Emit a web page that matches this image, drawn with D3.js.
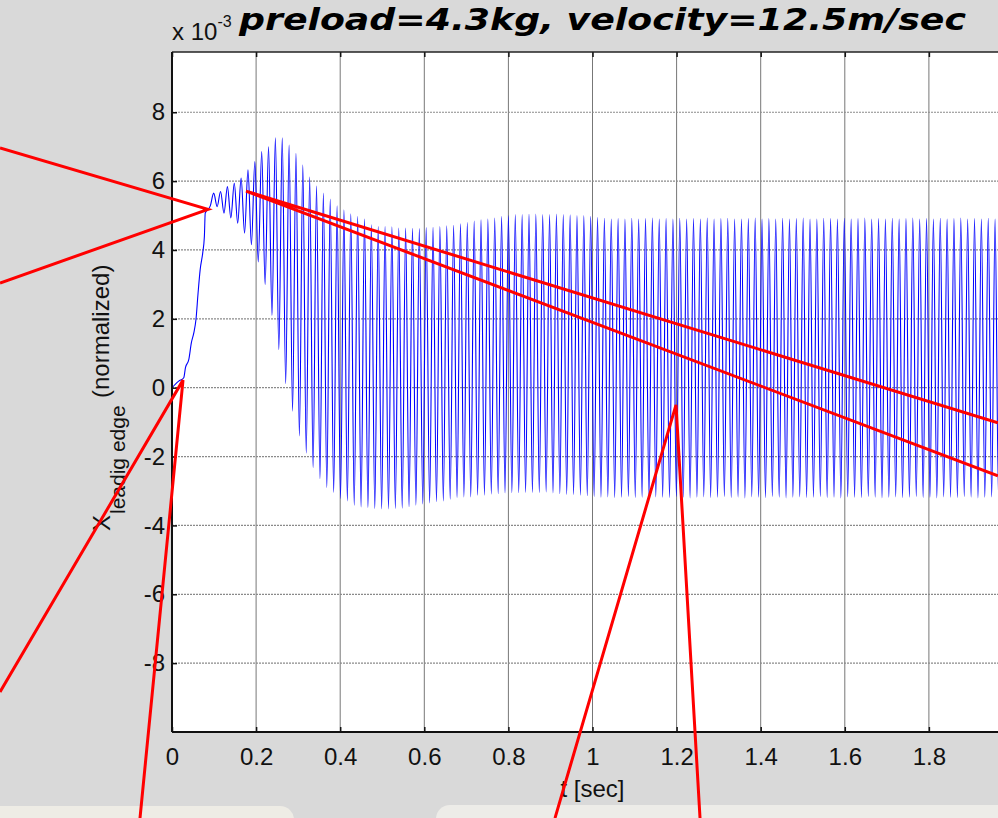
<!DOCTYPE html>
<html>
<head>
<meta charset="utf-8">
<script src="https://cdn.jsdelivr.net/npm/d3@7/dist/d3.min.js"></script>
<style>
  body { margin: 0; background: #d9d9d9; }
  svg { display: block; }
  .tick text { font-family: "Liberation Sans", Arial, sans-serif; font-size: 24px; fill: #111; }
</style>
</head>
<body>
<div id="plot"></div>
<script>
// ---- data (values in units of 1e-3) ----
const xTicks = [0, 0.2, 0.4, 0.6, 0.8, 1, 1.2, 1.4, 1.6, 1.8];
const xTickLabels = ["0", "0.2", "0.4", "0.6", "0.8", "1", "1.2", "1.4", "1.6", "1.8"];
const yTicks = [-8, -6, -4, -2, 0, 2, 4, 6, 8];
const yTickLabels = ["-8", "-6", "-4", "-2", "0", "2", "4", "6", "8"];

// initial rise before the oscillation starts
const riseT = [0, 0.016, 0.028, 0.032, 0.040, 0.046, 0.052, 0.057, 0.062, 0.067, 0.073, 0.077, 0.079];
const riseV = [0, 0.19, 0.29, 0.58, 0.82, 1.30, 1.60, 1.98, 2.75, 3.43, 3.91, 4.39, 5.07];

// oscillation: one peak and the trough before it for every cycle
const firstPeakT = 0.0992;
const cyclePeriod = 0.0163;
const peaks = [
  5.65, 5.70, 5.84, 5.94, 6.09, 6.33, 6.57, 6.86, 7.00, 7.26,
  7.26, 7.05, 6.81, 6.47, 6.12, 5.86, 5.65, 5.48, 5.28, 5.17,
  5.05, 4.97, 4.90, 4.73, 4.68, 4.68, 4.67, 4.64, 4.64, 4.63,
  4.62, 4.65, 4.66, 4.68, 4.70, 4.72, 4.76, 4.80, 4.84, 4.88,
  4.90, 4.93, 4.97, 5.00, 5.03, 5.03, 5.04, 5.04, 5.03, 5.03,
  5.04, 5.03, 5.02, 5.00, 5.00, 4.98, 4.94, 4.92, 4.90, 4.91,
  4.90, 4.92, 4.90, 4.91, 4.93, 4.90, 4.91, 4.90, 4.92, 4.90,
  4.91, 4.90, 4.93, 4.90, 4.91, 4.92, 4.90, 4.90, 4.91, 4.93,
  4.90, 4.91, 4.90, 4.92, 4.90, 4.91, 4.93, 4.90, 4.90, 4.92,
  4.91, 4.90, 4.92, 4.90, 4.91, 4.93, 4.90, 4.91, 4.90, 4.92,
  4.90, 4.91, 4.93, 4.90, 4.91, 4.90, 4.92, 4.90, 4.91, 4.93,
  4.90, 4.91, 4.90, 4.92, 4.90, 4.91, 4.90
];
const troughs = [
  5.28, 5.26, 5.07, 4.93, 4.78, 4.49, 4.15, 3.65, 3.00, 2.10,
  1.11, 0.12, -0.68, -1.40, -1.90, -2.32, -2.64, -2.90, -3.04, -3.22,
  -3.29, -3.41, -3.46, -3.48, -3.51, -3.52, -3.52, -3.51, -3.50, -3.46,
  -3.41, -3.38, -3.35, -3.31, -3.29, -3.24, -3.19, -3.17, -3.17, -3.12,
  -3.12, -3.09, -3.08, -3.06, -3.05, -3.05, -3.04, -3.04, -3.04, -3.03,
  -3.06, -3.08, -3.10, -3.10, -3.12, -3.14, -3.16, -3.18, -3.17, -3.19,
  -3.18, -3.16, -3.19, -3.18, -3.20, -3.17, -3.18, -3.19, -3.16, -3.18,
  -3.20, -3.18, -3.17, -3.19, -3.18, -3.16, -3.19, -3.18, -3.20, -3.17,
  -3.18, -3.19, -3.16, -3.18, -3.20, -3.18, -3.17, -3.19, -3.18, -3.16,
  -3.19, -3.18, -3.20, -3.17, -3.18, -3.19, -3.16, -3.18, -3.20, -3.18,
  -3.17, -3.19, -3.18, -3.16, -3.19, -3.18, -3.20, -3.17, -3.18, -3.19,
  -3.16, -3.18, -3.20, -3.18, -3.17, -3.19, -3.18
];

// red hand-drawn annotation strokes, in data coordinates [t, value]
const annotations = [
  [[-0.409, 6.96], [0.0856, 5.18], [-0.409, 3.04]],
  [[-0.409, -8.84], [0.0262, 0.22], [-0.0761, -12.5]],
  [[1.964, -1.02], [0.176, 5.71], [1.964, -2.56]],
  [[0.9108, -12.5], [1.1986, -0.50], [1.2557, -12.5]]
];

// ---- layout ----
const width = 998, height = 818;
const plot = { left: 172, top: 52, right: 1013, bottom: 732 };
const font = '"Liberation Sans", Arial, sans-serif';

const x = d3.scaleLinear().domain([0, 2]).range([plot.left, plot.right]);
const y = d3.scaleLinear().domain([-10, 9.75]).range([plot.bottom, plot.top]);

const svg = d3.select("#plot").append("svg")
    .attr("width", width)
    .attr("height", height);

svg.append("rect").attr("width", width).attr("height", height).attr("fill", "#d9d9d9");

// light panels peeking in at the bottom of the screenshot
svg.append("rect").attr("x", -30).attr("y", 806).attr("width", 324).attr("height", 40).attr("rx", 14).attr("fill", "#eeece5");
svg.append("rect").attr("x", 436).attr("y", 805).attr("width", 620).attr("height", 40).attr("rx", 14).attr("fill", "#edece8");

// axes background
svg.append("rect")
    .attr("x", plot.left).attr("y", plot.top)
    .attr("width", plot.right - plot.left).attr("height", plot.bottom - plot.top)
    .attr("fill", "#fff");

// grid
svg.append("g").selectAll("line").data(xTicks.slice(1)).join("line")
    .attr("x1", d => x(d)).attr("x2", d => x(d))
    .attr("y1", plot.top).attr("y2", plot.bottom)
    .attr("stroke", "#777").attr("stroke-width", 1);

svg.append("g").selectAll("line").data(yTicks).join("line")
    .attr("x1", plot.left).attr("x2", plot.right)
    .attr("y1", d => y(d)).attr("y2", d => y(d))
    .attr("stroke", "#8a8a8a").attr("stroke-width", 1.2)
    .attr("stroke-dasharray", "2,1");

// signal
const signal = riseT.map((t, i) => [t, riseV[i]]);
const nCycles = Math.min(peaks.length, troughs.length);
for (let i = 0; i < nCycles; i++) {
    signal.push([firstPeakT + (i - 0.5) * cyclePeriod, troughs[i]]);
    signal.push([firstPeakT + i * cyclePeriod, peaks[i]]);
}

const line = d3.line()
    .x(d => x(d[0]))
    .y(d => y(d[1]))
    .curve(d3.curveMonotoneX);

svg.append("path")
    .datum(signal)
    .attr("d", line)
    .attr("fill", "none")
    .attr("stroke", "#0000ff")
    .attr("stroke-width", 1.1);

// axes (inward ticks, MATLAB style)
const xAxis = svg.append("g")
    .attr("transform", `translate(0,${plot.bottom})`)
    .call(d3.axisBottom(x).tickValues(xTicks).tickFormat((d, i) => xTickLabels[i])
        .tickSizeInner(-5).tickSizeOuter(0).tickPadding(16));
xAxis.select(".domain").remove();

svg.append("g")
    .attr("transform", `translate(0,${plot.top})`)
    .call(d3.axisTop(x).tickValues(xTicks).tickFormat("").tickSizeInner(-5).tickSizeOuter(0))
    .select(".domain").remove();

const yAxis = svg.append("g")
    .attr("transform", `translate(${plot.left},0)`)
    .call(d3.axisLeft(y).tickValues(yTicks).tickFormat((d, i) => yTickLabels[i])
        .tickSizeInner(-5).tickSizeOuter(0).tickPadding(7));
yAxis.select(".domain").remove();

svg.selectAll(".tick line").attr("stroke", "#111").attr("stroke-width", 1.5);

// axes box
svg.append("line").attr("x1", plot.left).attr("x2", plot.right)
    .attr("y1", plot.top).attr("y2", plot.top).attr("stroke", "#222").attr("stroke-width", 1.5);
svg.append("line").attr("x1", plot.left).attr("x2", plot.right)
    .attr("y1", plot.bottom).attr("y2", plot.bottom).attr("stroke", "#111").attr("stroke-width", 2);
svg.append("line").attr("x1", plot.left).attr("x2", plot.left)
    .attr("y1", plot.top).attr("y2", plot.bottom).attr("stroke", "#111").attr("stroke-width", 2);

// exponent label
const expo = svg.append("text")
    .attr("x", 172).attr("y", 40)
    .attr("font-family", font).attr("font-size", 24).attr("fill", "#111");
expo.append("tspan").text("x 10");
expo.append("tspan").attr("dy", -13).attr("font-size", 16).text("-3");

// title
svg.append("text")
    .attr("x", 239).attr("y", 30)
    .attr("font-family", '"Comic Sans MS", "DejaVu Sans", sans-serif')
    .attr("font-size", 30).attr("font-weight", "bold").attr("font-style", "italic")
    .attr("textLength", 727).attr("lengthAdjust", "spacingAndGlyphs")
    .attr("fill", "#000")
    .text("preload=4.3kg, velocity=12.5m/sec");

// x label
svg.append("text")
    .attr("x", x(1)).attr("y", 797)
    .attr("text-anchor", "middle")
    .attr("font-family", font).attr("font-size", 24).attr("fill", "#111")
    .text("t [sec]");

// y label
svg.append("text")
    .attr("transform", "translate(110,531) rotate(-90)")
    .attr("font-family", font).attr("font-size", 24).attr("fill", "#111")
    .text("X");
svg.append("text")
    .attr("transform", "translate(125,514) rotate(-90)")
    .attr("font-family", font).attr("font-size", 21).attr("fill", "#111")
    .text("leadig edge");
svg.append("text")
    .attr("transform", "translate(109,398) rotate(-90)")
    .attr("font-family", font).attr("font-size", 24).attr("fill", "#111")
    .text("(normalized)");

// red annotation strokes
const annoLine = d3.line().x(d => x(d[0])).y(d => y(d[1]));
svg.append("g").selectAll("path").data(annotations).join("path")
    .attr("d", annoLine)
    .attr("fill", "none")
    .attr("stroke", "#ff0000")
    .attr("stroke-width", 3)
    .attr("stroke-linejoin", "miter");
</script>
</body>
</html>
